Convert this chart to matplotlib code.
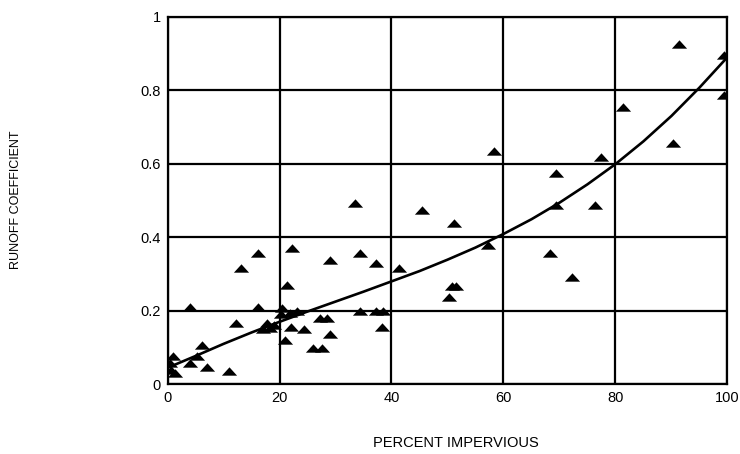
import matplotlib
matplotlib.use("Agg")

import numpy as np
import matplotlib.pyplot as plt
from matplotlib.path import Path

# ---------------------------------------------------------------------------
# Data
# ---------------------------------------------------------------------------

pct_impervious = [
    0.4, 0.6, 1.0, 1.3, 4.0, 4.1, 5.2, 6.1, 7.1, 11.0,
    12.2, 13.2, 16.1, 16.2, 17.0, 17.8, 18.3, 19.0, 20.2, 20.4,
    21.0, 21.4, 21.9, 22.2, 22.0, 23.1, 24.3, 26.0, 27.2, 27.5,
    28.5, 29.1, 29.1, 33.5, 34.3, 34.3, 37.2, 37.2, 38.5, 38.3,
    41.3, 45.4, 50.3, 50.8, 51.6, 51.2, 57.3, 58.3, 68.3, 69.3,
    69.4, 72.2, 76.3, 77.4, 81.4, 90.3, 91.4, 99.4, 99.4,
]
runoff_coef = [
    0.058, 0.040, 0.077, 0.030, 0.057, 0.210, 0.077, 0.107, 0.048, 0.037,
    0.166, 0.316, 0.210, 0.356, 0.150, 0.167, 0.153, 0.160, 0.190, 0.207,
    0.120, 0.270, 0.193, 0.370, 0.157, 0.200, 0.150, 0.100, 0.180, 0.100,
    0.180, 0.338, 0.137, 0.494, 0.358, 0.200, 0.329, 0.200, 0.200, 0.157,
    0.317, 0.474, 0.237, 0.267, 0.267, 0.438, 0.379, 0.635, 0.358, 0.576,
    0.488, 0.291, 0.488, 0.617, 0.755, 0.656, 0.926, 0.896, 0.787,
]

# fitted curve, every 5 %
curve_x = [0, 5, 10, 15, 20, 25, 30, 35, 40, 45, 50,
           55, 60, 65, 70, 75, 80, 85, 90, 95, 100]
curve_y = [0.045, 0.077, 0.110, 0.141, 0.170, 0.198, 0.225, 0.252, 0.280, 0.308, 0.339,
           0.372, 0.409, 0.449, 0.494, 0.544, 0.599, 0.661, 0.730, 0.807, 0.890]

x_ticks = [0, 20, 40, 60, 80, 100]
y_ticks = [0, 0.2, 0.4, 0.6, 0.8, 1]
y_tick_labels = ["0", "0.2", "0.4", "0.6", "0.8", "1"]

# ---------------------------------------------------------------------------
# Plot
# ---------------------------------------------------------------------------

plt.rcParams["font.family"] = ["Liberation Sans", "DejaVu Sans"]

# flat triangle marker like the scanned one
tri = Path([(-1, -0.55), (1, -0.55), (0, 0.55), (-1, -0.55)],
           [Path.MOVETO, Path.LINETO, Path.LINETO, Path.CLOSEPOLY])

fig = plt.figure(figsize=(7.4, 4.54), dpi=100)
ax = fig.add_axes([0.2264, 0.1535, 0.7566, 0.8097])

ax.plot(curve_x, curve_y, color="black", lw=1.9, zorder=3)
ax.scatter(pct_impervious, runoff_coef, marker=tri, s=120, color="black",
           linewidths=0, zorder=4)

ax.set_xlim(0, 100)
ax.set_ylim(0, 1)
ax.set_xticks(x_ticks)
ax.set_yticks(y_ticks)
ax.set_yticklabels(y_tick_labels)
ax.tick_params(length=0, labelsize=10.5, pad=5)
ax.grid(True, color="black", lw=1.6)
for sp in ax.spines.values():
    sp.set_linewidth(1.6)

fig.text(0.021, 0.56, "RUNOFF COEFFICIENT", rotation=90, fontsize=9,
         ha="center", va="center")
fig.text(0.616, 0.025, "PERCENT IMPERVIOUS", fontsize=10.5,
         ha="center", va="center")

plt.savefig("out.png", dpi=100)
plt.close()
